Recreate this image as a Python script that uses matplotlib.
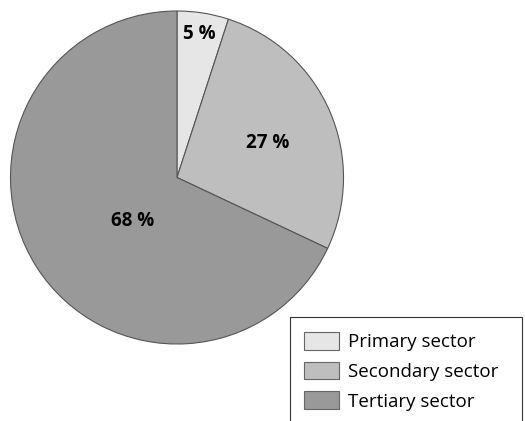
import numpy as np
import matplotlib.pyplot as plt
from matplotlib.patches import Rectangle

# ------------------------------------------------------------------
# data: share of employment by sector
# ------------------------------------------------------------------
sectors = ["Primary sector", "Secondary sector", "Tertiary sector"]
shares = [5, 27, 68]
colors = ["#e6e6e6", "#bebebe", "#999999"]
# radial distance of each percentage label (fraction of radius) and angle nudge
label_dist = [0.87, 0.58, 0.37]
label_dang = [0.0, -2.5, 12.0]

plt.rcParams['font.family'] = ['Open Sans', 'DejaVu Sans']

W, H = 525, 421
fig = plt.figure(figsize=(W / 100, H / 100), dpi=100)

# pie axes: centre (177, 177) px, radius 166.5 px
cx, cy, r = 177, 177.5, 166.5
ax = fig.add_axes([(cx - r) / W, (H - cy - r) / H, 2 * r / W, 2 * r / H])
wedges, _ = ax.pie(shares, colors=colors, startangle=90, counterclock=False,
                   radius=1, wedgeprops=dict(edgecolor="#555555", linewidth=0.8))
ax.set_xlim(-1, 1)
ax.set_ylim(-1, 1)
ax.set_aspect('equal')
ax.axis('off')

# percentage labels inside the slices
for w, val, d, da in zip(wedges, shares, label_dist, label_dang):
    ang = np.deg2rad((w.theta1 + w.theta2) / 2 + da)
    ax.text(d * np.cos(ang), d * np.sin(ang), f"{val} %", ha='center', va='center',
            fontsize=13.5, fontweight='bold', color='black')

# legend box running off the lower right edge
fig.add_artist(Rectangle((290 / W, -0.05), (522 - 290) / W, (H - 317) / H + 0.05,
                         transform=fig.transFigure, facecolor='white',
                         edgecolor='#333333', linewidth=0.8))
leg = fig.legend(wedges, sectors, loc='upper left',
                 bbox_to_anchor=(304 / W, (H - 332) / H), frameon=False,
                 fontsize=13.5, handlelength=1.87, handleheight=1.07,
                 handletextpad=0.5, labelspacing=0.56, borderpad=0, borderaxespad=0)
for p in leg.get_patches():
    p.set_edgecolor('#666666')
    p.set_linewidth(0.8)

fig.savefig("out.png", dpi=100)
